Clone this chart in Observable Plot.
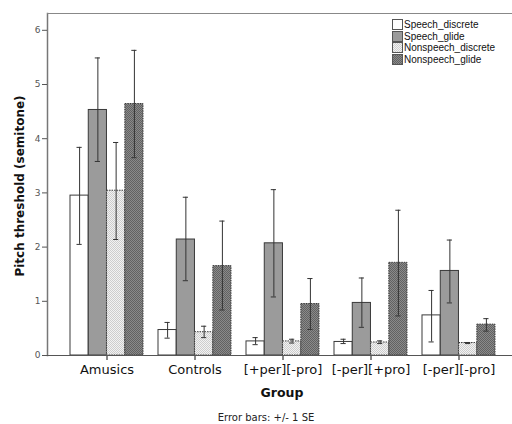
<!DOCTYPE html>
<html><head><meta charset="utf-8">
<script src="https://cdn.jsdelivr.net/npm/d3@7"></script>
<script src="https://cdn.jsdelivr.net/npm/@observablehq/plot@0.6"></script>
<style>
body{margin:0;background:#fff;}
#wrap{position:relative;width:512px;height:424px;overflow:hidden;font-family:"DejaVu Sans",sans-serif;}
#legend{position:absolute;left:392px;top:19px;font:10px "Liberation Sans",sans-serif;color:#111;line-height:11.5px;}
#legend div{display:flex;align-items:center;height:11.5px;white-space:nowrap;}
#legend span{display:block;height:11.5px;line-height:11.5px;}
#legend svg{margin-right:1px;flex:none;}
#ylab{position:absolute;left:20px;top:186px;transform:translate(-50%,-50%) rotate(-90deg);white-space:nowrap;font:bold 12px "DejaVu Sans",sans-serif;color:#111;}
#xlab{position:absolute;left:282px;top:392px;transform:translate(-50%,-50%);white-space:nowrap;font:bold 12.5px "DejaVu Sans",sans-serif;color:#111;}
figcaption{font:10px "DejaVu Sans",sans-serif;color:#222;text-align:center;padding-left:20px;margin-top:6px;}
figure{margin:0;}
</style></head><body><div id="wrap"></div>
<script>
const groups = ["Amusics","Controls","[+per][-pro]","[-per][+pro]","[-per][-pro]"];
const series = ["Speech_discrete","Speech_glide","Nonspeech_discrete","Nonspeech_glide"];
const yTicks = [0,1,2,3,4,5,6];

const speechDiscreteMean = [2.95, 0.47, 0.26, 0.25, 0.74];
const speechDiscreteLo   = [2.05, 0.32, 0.20, 0.22, 0.25];
const speechDiscreteHi   = [3.84, 0.61, 0.33, 0.30, 1.20];

const speechGlideMean = [4.53, 2.14, 2.07, 0.97, 1.56];
const speechGlideLo   = [3.58, 1.38, 1.08, 0.52, 0.97];
const speechGlideHi   = [5.49, 2.92, 3.06, 1.43, 2.13];

const nonspeechDiscreteMean = [3.04, 0.43, 0.26, 0.24, 0.23];
const nonspeechDiscreteLo   = [2.14, 0.33, 0.23, 0.22, 0.22];
const nonspeechDiscreteHi   = [3.93, 0.54, 0.30, 0.27, 0.24];

const nonspeechGlideMean = [4.64, 1.65, 0.95, 1.71, 0.57];
const nonspeechGlideLo   = [3.65, 0.84, 0.48, 0.73, 0.45];
const nonspeechGlideHi   = [5.63, 2.48, 1.42, 2.68, 0.68];

const table = [
  [series[0], speechDiscreteMean, speechDiscreteLo, speechDiscreteHi],
  [series[1], speechGlideMean, speechGlideLo, speechGlideHi],
  [series[2], nonspeechDiscreteMean, nonspeechDiscreteLo, nonspeechDiscreteHi],
  [series[3], nonspeechGlideMean, nonspeechGlideLo, nonspeechGlideHi]
];

const fills = ["white", "#9b9b9b", "url(#pnd)", "url(#png)"];

// layout of the band scale
const W = 512, ML = 47, MR = -6;
const padIn = 0.17, padOut = 0.26;
const step = (W - ML - MR) / (groups.length - padIn + 2 * padOut);
const bw = step * (1 - padIn);
const w = bw / series.length;
const cap = 6.5;

const seriesMarks = table.flatMap(([s, m, lo, hi], i) => {
  const data = groups.map((g, j) => ({group: g, series: s, mean: m[j], lo: lo[j], hi: hi[j]}));
  const L = i * w, R = (series.length - 1 - i) * w;
  const dash = s.startsWith("Nonspeech") ? "1.5,1" : null;
  return [
    Plot.barY(data, {x: "group", y: "mean", fill: "series", stroke: "#3a3a3a", strokeWidth: 1, strokeDasharray: dash, insetLeft: L, insetRight: R}),
    Plot.ruleX(data, {x: "group", y1: "lo", y2: "hi", stroke: "#333", dx: (i - (series.length - 1) / 2) * w}),
    Plot.tickY(data, {x: "group", y: "lo", stroke: "#333", insetLeft: L + cap, insetRight: R + cap}),
    Plot.tickY(data, {x: "group", y: "hi", stroke: "#333", insetLeft: L + cap, insetRight: R + cap})
  ];
});

const fig = Plot.plot({
  width: W, height: 406,
  marginLeft: ML, marginRight: MR, marginTop: 13, marginBottom: 51,
  style: {fontFamily: "DejaVu Sans", background: "white"},
  x: {domain: groups, paddingInner: padIn, paddingOuter: padOut, label: null},
  y: {domain: [0, 6.31], label: null},
  color: {domain: series, range: fills, type: "ordinal"},
  caption: "Error bars: +/- 1 SE",
  marks: [
    Plot.frame({anchor: "left", stroke: "#777", strokeWidth: 1.5}),
    Plot.frame({anchor: "top", stroke: "#888"}),
    Plot.axisY({ticks: yTicks, tickFormat: d3.format("d"), tickSize: 5, tickPadding: 2, fontSize: 9, color: "#555", label: null}),
    Plot.axisX({tickSize: 5, tickPadding: 4, fontSize: 13, color: "#111", label: null}),
    ...seriesMarks,
    Plot.frame({anchor: "bottom", stroke: "#555"})
  ]
});

const wrap = document.getElementById("wrap");
wrap.appendChild(fig);
const svg = fig.tagName.toLowerCase() === "svg" ? fig : fig.querySelector("svg");
const ns = "http://www.w3.org/2000/svg";
const defs = document.createElementNS(ns, "defs");
defs.innerHTML = `
<pattern id="pnd" width="2" height="2" patternUnits="userSpaceOnUse">
  <rect width="2" height="2" fill="#f2f2f2"/><rect width="1" height="1" fill="#cdcdcd"/><rect x="1" y="1" width="1" height="1" fill="#cdcdcd"/>
</pattern>
<pattern id="png" width="2" height="2" patternUnits="userSpaceOnUse">
  <rect width="2" height="2" fill="#8a8a8a"/><rect width="1" height="1" fill="#626262"/><rect x="1" y="1" width="1" height="1" fill="#626262"/>
</pattern>`;
svg.insertBefore(defs, svg.firstChild);

const ylab = document.createElement("div");
ylab.id = "ylab"; ylab.textContent = "Pitch threshold (semitone)";
wrap.appendChild(ylab);
const xlab = document.createElement("div");
xlab.id = "xlab"; xlab.textContent = "Group";
wrap.appendChild(xlab);

const legend = document.createElement("div");
legend.id = "legend";
series.forEach((s, i) => {
  const row = document.createElement("div");
  row.innerHTML = `<svg width="11" height="11"><rect x="0.5" y="0.5" width="10" height="10" fill="${fills[i]}" stroke="#555"/></svg><span>${s}</span>`;
  legend.appendChild(row);
});
wrap.appendChild(legend);
</script>
</body></html>
